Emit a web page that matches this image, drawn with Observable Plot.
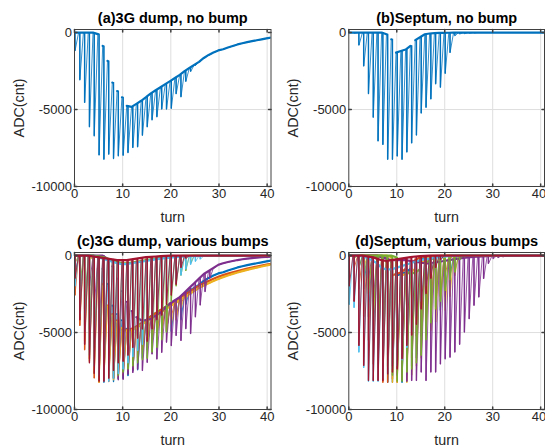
<!DOCTYPE html>
<html><head><meta charset="utf-8">
<script src="https://cdn.jsdelivr.net/npm/d3@7"></script>
<script src="https://cdn.jsdelivr.net/npm/@observablehq/plot@0.6"></script>
<style>
html,body{margin:0;padding:0;background:#fff;}
#chart{position:relative;width:545px;height:447px;overflow:hidden;}
#chart svg{position:absolute;overflow:visible;}
</style></head><body><div id="chart"></div>
<script>
// ---- ticks ----
const turnTicks = [0, 10, 20, 30, 40];
const adcTicks = [0, -5000, -10000];
const titles = ["(a)3G dump, no bump", "(b)Septum, no bump", "(c)3G dump, various bumps", "(d)Septum, various bumps"];
const colors = {blue: "#0072BD", orange: "#D95319", yellow: "#EDB120", purple: "#7E2F8E", green: "#77AC30", lightblue: "#4DBEEE", red: "#A2142F"};

// ---- per-turn spike minimum (turn 0,1,2,...) and level reached before next turn ----
// 3G dump, no bump
const dumpSpikes = [-1200,-3100,-4570,-6150,-6740,-7980,-8260,-7930,-8220,-8040,-8000,-7830,-7500,-7450,-6700,-6150,-5700,-5500,-5000,-5000,-4950,-4000,-4200,-3200,-2550,-2150,-1750];
const dumpEnv = [0,0,0,0,-100,-870,-1840,-3250,-3800,-4200,-4760,-4830,-4630,-4430,-4200,-3950,-3750,-3550,-3350,-3150,-2950,-2750,-2500,-2300,-2100,-1900,-1650,-1450,-1290,-1160,-1080,-970,-870,-770,-690,-620,-560,-500,-440,-380,-320,-280];
// Septum, no bump
const septSpikes = [0,-50,-840,-2200,-4000,-5530,-7070,-7300,-8270,-8270,-8050,-8270,-7790,-7200,-6690,-5260,-4890,-4340,-3360,-3580,-2680,-1320,-220,-100,-80,-50,-30];
const septEnv = [0,0,0,0,0,0,0,-110,-440,-1300,-1200,-1100,-860,-490,-300,-110,-60,-40,-25,-15,-10,0,0,0,0,0,0,0,0,0,0,0,0,0,0,0,0,0,0,0,0,0];

// 3G dump, various bumps
const cOrangeSpikes = [-2600,-4570,-6150,-6740,-7980,-8260,-7930,-8220,-8040,-8000,-7830,-7500,-7450,-6700,-6150,-5700,-5500,-5000,-5000,-4950,-4000,-4200,-3200,-2550,-2150,-1800];
const cOrangeEnv = [0,0,0,-100,-870,-1840,-3250,-3800,-4200,-4760,-4830,-4750,-4600,-4400,-4200,-3950,-3750,-3550,-3350,-3150,-2950,-2750,-2550,-2350,-2150,-1950,-1800,-1650,-1500,-1380,-1270,-1170,-1080,-1000,-920,-850,-780,-710,-650,-590,-530,-480];
const cYellowSpikes = [-1800,-4000,-5600,-6900,-7700,-8260,-8100,-8000,-8100,-7900,-7700,-7500,-7300,-6900,-6400,-6000,-5600,-5300,-5100,-4900,-4500,-4200,-3400,-2800,-2300,-1900];
const cYellowEnv = [0,0,0,-200,-1000,-2000,-3300,-3900,-4300,-4700,-4900,-4850,-4700,-4500,-4300,-4100,-3900,-3700,-3500,-3300,-3100,-2900,-2700,-2500,-2300,-2100,-1950,-1800,-1650,-1520,-1400,-1290,-1190,-1100,-1010,-930,-850,-780,-710,-640,-580,-520];
const cPurpleSpikes = [0,0,0,-2000,-3500,-5000,-6500,-7500,-8000,-8100,-8070,-7740,-7630,-7410,-7500,-6970,-6420,-6750,-6320,-5660,-5880,-5220,-5550,-4780,-5100,-4010,-3240,-2370,-1490,-300];
const cPurpleEnv = [0,0,0,0,0,0,-200,-700,-1500,-2300,-3000,-3600,-4000,-4200,-4200,-4100,-3900,-3700,-3400,-3100,-2900,-2700,-2400,-2100,-1800,-1500,-1200,-1000,-800,-600,-500,-420,-350,-290,-240,-200,-160,-130,-100,-80,-70,-60];
const cGreenSpikes = [-500,-2000,-3500,-4800,-6000,-7000,-7500,-7800,-8000,-7800,-7600,-7400,-7200,-7000,-6800,-6700,-6300,-6000,-5500,-5000,-3000,-2000,-1300,-1000,-500];
const cGreenEnv = [0,0,0,0,-50,-100,-200,-300,-400,-500,-500,-450,-400,-350,-300,-250,-200,-150,-120,-90,-60,-40,-20,-10,0,0,0,0,0,0,0,0,0,0,0,0,0,0,0,0,0,0];
const cLightSpikes = [-2000,-3800,-5000,-6500,-7200,-7800,-8200,-8200,-8000,-7700,-7400,-7000,-6600,-6200,-5800,-5300,-4800,-4200,-3600,-3000,-2400,-1800,-1300,-900,-600,-400,-250];
const cLightEnv = [0,0,0,-50,-100,-200,-300,-400,-500,-550,-550,-500,-450,-400,-350,-300,-250,-200,-160,-130,-100,-80,-60,-40,-30,-20,-10,0,0,0,0,0,0,0,0,0,0,0,0,0,0,0];
const cRedSpikes = [-1500,-4200,-5800,-7000,-7700,-8200,-8200,-8000,-7500,-7000,-6900,-6500,-6000,-5400,-4800,-5600,-4800,-4200,-3900,-3200,-2600,-1900,-800,-200];
const cRedEnv = [0,0,0,-50,-100,-150,-200,-250,-300,-300,-300,-250,-200,-150,-100,-80,-60,-40,-20,0,0,0,0,0,0,0,0,0,0,0,0,0,0,0,0,0,0,0,0,0,0,0];

// Septum, various bumps
const dOrangeSpikes = [-50,-840,-2200,-4000,-5530,-7070,-7300,-8270,-8270,-8050,-8270,-7790,-7200,-6690,-5260,-4890,-4340,-3360,-3580,-2680,-1320,-220,-100];
const dOrangeEnv = [0,0,0,0,0,0,-110,-440,-1300,-1200,-1100,-860,-490,-300,-110,-60,-40,-25,-15,-10,0,0,0,0,0,0,0,0,0,0,0,0,0,0,0,0,0,0,0,0,0,0];
const dYellowSpikes = [0,0,-50,-840,-2200,-4000,-5530,-7070,-7300,-8270,-8270,-8050,-8270,-7790,-7200,-6690,-5260,-4890,-4340,-3360,-3580,-2680,-1320,-220,-100];
const dYellowEnv = [0,0,0,0,0,0,0,0,-110,-440,-1300,-1200,-1100,-860,-490,-300,-110,-60,-40,-25,-15,-10,0,0,0,0,0,0,0,0,0,0,0,0,0,0,0,0,0,0,0,0];
const dPurpleSpikes = [0,0,0,0,-1500,-3000,-4500,-5500,-6500,-7200,-7800,-8100,-8200,-8150,-8150,-7600,-8150,-7600,-7600,-7070,-6740,-6630,-6300,-5800,-5000,-4130,-3260,-2720,-1520,-540,-220,-150,-100];
const dPurpleEnv = [0,0,0,0,0,0,-100,-200,-300,-300,-300,-300,-350,-400,-450,-500,-500,-450,-400,-350,-300,-250,-200,-150,-120,-90,-70,-50,-30,-20,0,0,0,0,0,0,0,0,0,0,0,0];
const dGreenSpikes = [0,-200,-800,-1500,-2500,-4000,-5200,-6500,-7200,-7800,-8200,-8200,-7600,-7400,-7000,-6500,-5500,-4400,-3500,-3000,-2300,-1600,-1100,-300,-100];
const dGreenEnv = [0,0,0,0,0,0,0,0,0,-110,-440,-1000,-1200,-1100,-900,-500,-300,-120,-60,-40,-20,-10,0,0,0,0,0,0,0,0,0,0,0,0,0,0,0,0,0,0,0,0];
const dLightSpikes = [-3200,-3400,-6300,-7300,-8200,-8200,-8200,-8000,-7700,-7400,-7200,-6800,-6000,-5000,-4000,-3000,-2000,-1200,-600,-300,-100];
const dLightEnv = [0,0,-50,-150,-300,-500,-800,-900,-900,-800,-700,-600,-500,-400,-300,-250,-200,-150,-100,-60,-30,0,0,0,0,0,0,0,0,0,0,0,0,0,0,0,0,0,0,0,0,0];
const dRedSpikes = [-2000,-3000,-5870,-7170,-8150,-8150,-8150,-8150,-7720,-7600,-7400,-6740,-5870,-5200,-4500,-3500,-2500,-1500,-800,-300];
const dRedEnv = [0,0,0,-50,-100,-200,-300,-350,-300,-250,-200,-150,-100,-60,-40,-20,0,0,0,0,0,0,0,0,0,0,0,0,0,0,0,0,0,0,0,0,0,0,0,0,0,0];

// thin trace: level -> spike minimum -> recovered level, turn by turn
function wave(spikes, env) {
  const pts = [];
  let prev = env[0];
  for (let n = 0; n < env.length; n++) {
    const m = spikes[n];
    pts.push({t: n + 0.1, v: prev});
    if (m !== undefined && m < prev) pts.push({t: n + 0.1, v: m});
    pts.push({t: n + 0.85, v: env[n]});
    prev = env[n];
  }
  return pts;
}
// the spike edges themselves (drawn stronger)
function spikeRules(spikes, env) {
  const out = [];
  for (let n = 0; n < spikes.length; n++) {
    const prev = n === 0 ? env[0] : env[n - 1];
    if (spikes[n] < prev) out.push({t: n + 0.1, top: prev, bottom: spikes[n]});
  }
  return out;
}
// the noisy base level: a thick continuous band wherever it varies slowly between turns
function baseBand(env) {
  const pts = [{t: 0, v: env[0]}];
  for (let n = 0; n < env.length; n++) {
    pts.push({t: n + 0.85, v: env[n]});
    if (n + 1 < env.length && Math.abs(env[n + 1] - env[n]) > 300) pts.push({t: n + 1.1, v: NaN});
  }
  return pts;
}

const panels = [
  {title: titles[0], left: 0, top: 0, width: 272, ml: 74, mr: 1.5,
   series: [{s: dumpSpikes, e: dumpEnv, c: colors.blue}]},
  {title: titles[1], left: 274, top: 0, width: 271, ml: 74.3, mr: 1,
   series: [{s: septSpikes, e: septEnv, c: colors.blue}]},
  {title: titles[2], left: 0, top: 222.5, width: 272, ml: 74, mr: 1.5,
   series: [
     {s: dumpSpikes, e: dumpEnv, c: colors.blue},
     {s: cOrangeSpikes, e: cOrangeEnv, c: colors.orange},
     {s: cYellowSpikes, e: cYellowEnv, c: colors.yellow},
     {s: cPurpleSpikes, e: cPurpleEnv, c: colors.purple},
     {s: cGreenSpikes, e: cGreenEnv, c: colors.green},
     {s: cLightSpikes, e: cLightEnv, c: colors.lightblue},
     {s: cRedSpikes, e: cRedEnv, c: colors.red}]},
  {title: titles[3], left: 274, top: 222.5, width: 271, ml: 74.3, mr: 1,
   series: [
     {s: septSpikes, e: septEnv, c: colors.blue},
     {s: dOrangeSpikes, e: dOrangeEnv, c: colors.orange},
     {s: dYellowSpikes, e: dYellowEnv, c: colors.yellow},
     {s: dPurpleSpikes, e: dPurpleEnv, c: colors.purple},
     {s: dGreenSpikes, e: dGreenEnv, c: colors.green},
     {s: dLightSpikes, e: dLightEnv, c: colors.lightblue},
     {s: dRedSpikes, e: dRedEnv, c: colors.red}]}
];

const tickShape = {draw(ctx, l) { ctx.moveTo(0, 0); ctx.lineTo(0, -l); }};
const axisColor = "#404040";
const FONT = "'Liberation Sans', Arial, Helvetica, sans-serif";

const chart = document.getElementById("chart");
panels.forEach((p, i) => {
  const rightCol = i % 2 === 1;
  const seriesMarks = p.series.flatMap(d => [
    Plot.line(wave(d.s, d.e), {x: "t", y: "v", stroke: d.c, strokeWidth: 0.8, clip: true}),
    Plot.line(baseBand(d.e), {x: "t", y: "v", stroke: d.c, strokeWidth: 2.2, clip: true}),
    Plot.ruleX(spikeRules(d.s, d.e), {x: "t", y1: "top", y2: "bottom", stroke: d.c, strokeWidth: 1.4, clip: true})
  ]);
  const svg = Plot.plot({
    width: p.width, height: 223,
    marginLeft: p.ml, marginRight: p.mr, marginTop: 29, marginBottom: 37,
    x: {domain: [0, 40.8]},
    y: {domain: [-10000, 200]},
    style: {fontFamily: FONT, color: "#262626", background: "transparent", overflow: "visible"},
    marks: [
      Plot.gridX(turnTicks.slice(1), {stroke: "#dedede", strokeOpacity: 1}),
      Plot.gridY([adcTicks[1]], {stroke: "#dedede", strokeOpacity: 1}),
      ...seriesMarks,
      Plot.frame({stroke: axisColor, strokeWidth: 1}),
      Plot.vector(turnTicks, {x: d => d, frameAnchor: "bottom", rotate: 0, length: 2.5, anchor: "start", shape: tickShape, stroke: axisColor}),
      Plot.vector(turnTicks, {x: d => d, frameAnchor: "top", rotate: 180, length: 2.5, anchor: "start", shape: tickShape, stroke: axisColor}),
      Plot.vector(adcTicks, {y: d => d, frameAnchor: "left", rotate: 90, length: 2.5, anchor: "start", shape: tickShape, stroke: axisColor}),
      Plot.vector(adcTicks, {y: d => d, frameAnchor: "right", rotate: -90, length: 2.5, anchor: "start", shape: tickShape, stroke: axisColor}),
      Plot.axisX(rightCol ? turnTicks.slice(0, -1) : turnTicks, {tickSize: 0, tickPadding: 2.5, fontSize: 13, label: null, tickFormat: d => String(d)}),
      ...(rightCol ? [Plot.axisX(turnTicks.slice(-1), {tickSize: 0, tickPadding: 2.5, fontSize: 13, label: null, tickFormat: d => String(d), textAnchor: "end", dx: 5.5})] : []),
      Plot.axisY(adcTicks, {tickSize: 0, tickPadding: 2.5, fontSize: 13, label: null, tickFormat: d => String(d)}),
      Plot.text([p.title], {text: d => d, frameAnchor: "top", dy: -10.9, lineAnchor: "middle", fontWeight: "bold", fontSize: 14.5, fill: "#000"}),
      Plot.text(["turn"], {text: d => d, frameAnchor: "bottom", dy: 31, lineAnchor: "middle", fontSize: 14.3, fill: "#262626"}),
      Plot.text(["ADC(cnt)"], {text: d => d, frameAnchor: "left", dx: -55, rotate: -90, textAnchor: "middle", lineAnchor: "middle", fontSize: 14.3, fill: "#262626"})
    ]
  });
  svg.style.left = p.left + "px";
  svg.style.top = p.top + "px";
  chart.appendChild(svg);
});
</script></body></html>
